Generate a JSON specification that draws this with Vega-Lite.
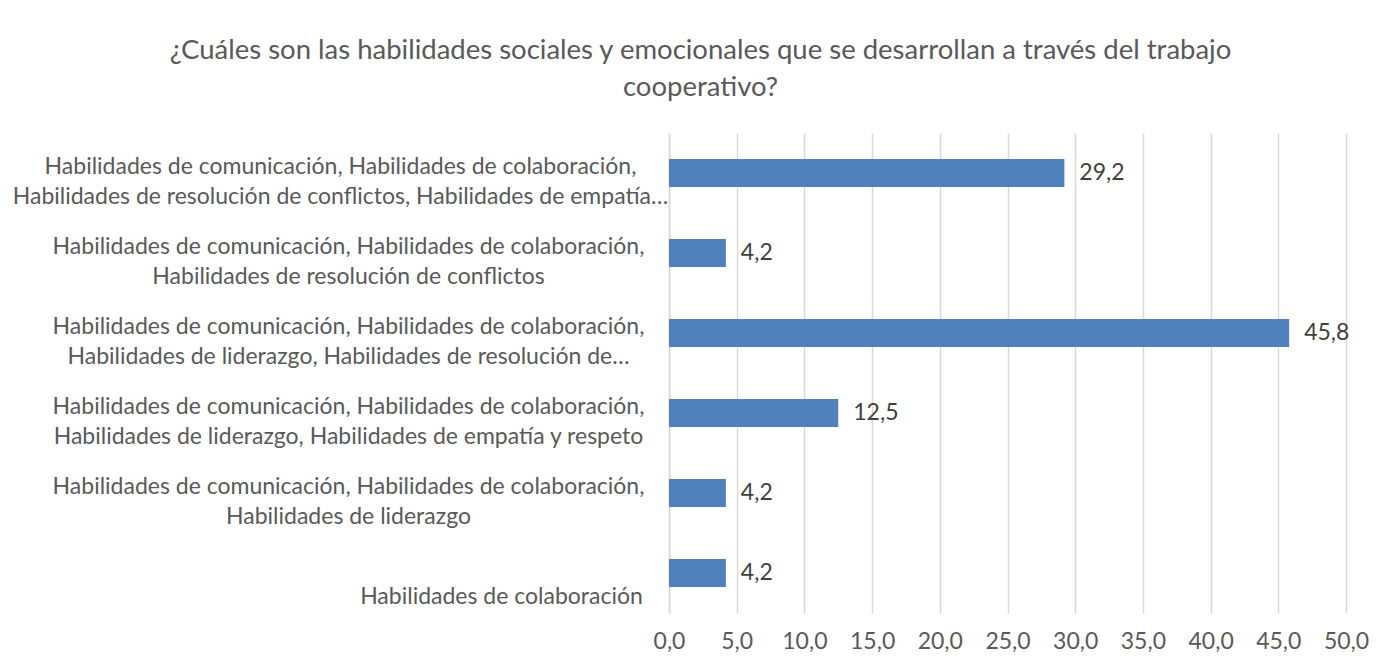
{
  "$schema": "https://vega.github.io/schema/vega-lite/v6.json",
  "autosize": "none",
  "width": 677,
  "height": 480,
  "padding": {"left": 669, "top": 133, "right": 39, "bottom": 53},
  "background": "white",
  "config": {
    "locale": {"number": {"decimal": ",", "thousands": ".", "grouping": [3], "currency": ["", " €"]}},
    "font": "Lato",
    "view": {"stroke": null}
  },
  "title": {
    "text": ["¿Cuáles son las habilidades sociales y emocionales que se desarrollan a través del trabajo", "cooperativo?"],
    "anchor": "middle",
    "frame": "group",
    "dx": -307,
    "offset": 32,
    "fontSize": 27.5,
    "fontWeight": "normal",
    "color": "#595959",
    "lineHeight": 37
  },
  "data": {
    "values": [
      {"label": "Habilidades de comunicación, Habilidades de colaboración,|Habilidades de resolución de conflictos, Habilidades de empatía…", "value": 29.2},
      {"label": "Habilidades de comunicación, Habilidades de colaboración,|Habilidades de resolución de conflictos", "value": 4.2},
      {"label": "Habilidades de comunicación, Habilidades de colaboración,|Habilidades de liderazgo, Habilidades de resolución de…", "value": 45.8},
      {"label": "Habilidades de comunicación, Habilidades de colaboración,|Habilidades de liderazgo, Habilidades de empatía y respeto", "value": 12.5},
      {"label": "Habilidades de comunicación, Habilidades de colaboración,|Habilidades de liderazgo", "value": 4.2},
      {"label": " |Habilidades de colaboración", "value": 4.2}
    ]
  },
  "encoding": {
    "y": {
      "field": "label",
      "type": "nominal",
      "sort": null,
      "title": null,
      "scale": {"paddingInner": 0.65, "paddingOuter": 0.325},
      "axis": {
        "labelExpr": "split(datum.value, '|')",
        "labelFontSize": 23,
        "labelColor": "#595959",
        "labelLineHeight": 30,
        "labelAlign": "center",
        "labelPadding": {
          "condition": [
            {"test": "indexof(datum.value, 'empatía…') >= 0", "value": 329},
            {"test": "indexof(datum.value, ' |') == 0", "value": 168}
          ],
          "value": 321
        },
        "labelOffset": -6,
        "labelLimit": 800,
        "ticks": false,
        "domainColor": "#d9d9d9",
        "domainWidth": 1.5
      }
    },
    "x": {
      "field": "value",
      "type": "quantitative",
      "title": null,
      "scale": {"domain": [0, 50], "nice": false},
      "axis": {
        "values": [0, 5, 10, 15, 20, 25, 30, 35, 40, 45, 50],
        "format": ".1f",
        "labelFontSize": 23,
        "labelColor": "#595959",
        "labelPadding": 17,
        "labelOverlap": false,
        "labelFlush": false,
        "ticks": false,
        "domain": false,
        "gridColor": "#d9d9d9",
        "gridWidth": 1.5
      }
    }
  },
  "layer": [
    {"mark": {"type": "bar", "color": "#4F81BD"}},
    {
      "mark": {"type": "text", "align": "left", "dx": 15, "fontSize": 23, "color": "#404040"},
      "encoding": {"text": {"field": "value", "type": "quantitative", "format": ".1f"}}
    }
  ]
}
